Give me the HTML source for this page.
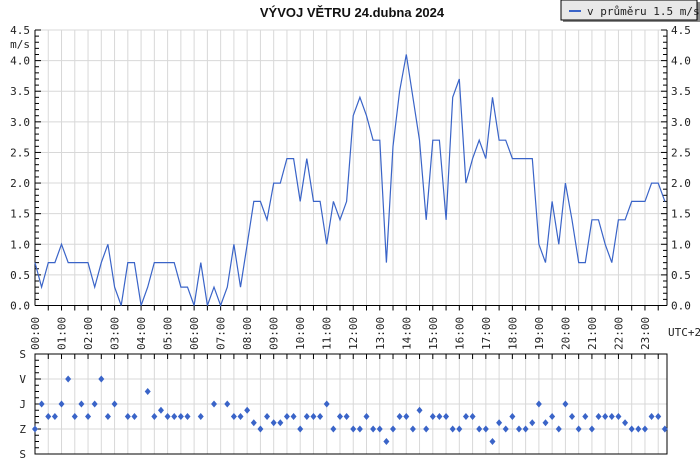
<!DOCTYPE html>
<html><head><meta charset="utf-8"><style>
body{margin:0;background:#fff;width:700px;height:460px;overflow:hidden}
svg{display:block}
text{font-family:"DejaVu Sans Mono","Liberation Mono",monospace;font-size:11px;fill:#222}
</style></head><body>
<svg id="c" width="700" height="460" xmlns="http://www.w3.org/2000/svg">
<text x="352" y="17" text-anchor="middle" style="font-family:'Liberation Sans',sans-serif;font-weight:bold;font-size:13px;fill:#111">VÝVOJ VĚTRU  24.dubna 2024</text>
<g>
<rect x="563" y="2" width="137" height="20" fill="#888"/>
<rect x="561" y="0" width="136" height="20" fill="#e8e8e8" stroke="#000" stroke-width="1"/>
<line x1="569" y1="11" x2="581" y2="11" stroke="#3a64c8" stroke-width="2"/>
<text x="587" y="15">v průměru 1.5 m/s</text>
</g>
<g id="main"></g>
<g id="dir"></g>
</svg>
<script>
const speeds=[0.7,0.3,0.7,0.7,1.0,0.7,0.7,0.7,0.7,0.3,0.7,1.0,0.3,0,0.7,0.7,0,0.3,0.7,0.7,0.7,0.7,0.3,0.3,0,0.7,0,0.3,0,0.3,1.0,0.3,1.0,1.7,1.7,1.4,2.0,2.0,2.4,2.4,1.7,2.4,1.7,1.7,1.0,1.7,1.4,1.7,3.1,3.4,3.1,2.7,2.7,0.7,2.6,3.5,4.1,3.4,2.7,1.4,2.7,2.7,1.4,3.4,3.7,2.0,2.4,2.7,2.4,3.4,2.7,2.7,2.4,2.4,2.4,2.4,1.0,0.7,1.7,1.0,2.0,1.4,0.7,0.7,1.4,1.4,1.0,0.7,1.4,1.4,1.7,1.7,1.7,2.0,2.0,1.7];
// direction in 16-point compass index (0=S north,4=V,8=J,12=Z,16=S); null = calm
const dirs=[12,8,10,10,8,4,10,8,10,8,4,10,8,null,10,10,null,6,10,9,10,10,10,10,null,10,null,8,null,8,10,10,9,11,12,10,11,11,10,10,12,10,10,10,8,12,10,10,12,12,10,12,12,14,12,10,10,12,9,12,10,10,10,12,12,10,10,12,12,14,11,12,10,12,12,11,8,11,10,12,8,10,12,10,12,10,10,10,10,11,12,12,12,10,10,12];
const yTicks=["0.0","0.5","1.0","1.5","2.0","2.5","3.0","3.5","4.0","4.5"];
const hourLabels=["00:00","01:00","02:00","03:00","04:00","05:00","06:00","07:00","08:00","09:00","10:00","11:00","12:00","13:00","14:00","15:00","16:00","17:00","18:00","19:00","20:00","21:00","22:00","23:00"];
const dirLabels=["S","V","J","Z","S"];

const NS="http://www.w3.org/2000/svg";
const X0=35,X1=667,STEP=6.63,Y0=305.5,YT=30,YMAX=4.5;
const PY0=354,PY1=454;
function xs(i){return X0+i*STEP;}
function ys(v){return Y0-(v/YMAX)*(Y0-YT);}
function yd(d){return PY0+(d/16)*(PY1-PY0);}
function el(tag,attrs,parent){const e=document.createElementNS(NS,tag);for(const k in attrs)e.setAttribute(k,attrs[k]);parent.appendChild(e);return e;}
const main=document.getElementById('main'),dir=document.getElementById('dir');
// main grid
for(let h=1;h<48;h++){const x=X0+h*STEP*2;if(x>X1-1)break;
 const g=el('line',{x1:x,y1:YT,x2:x,y2:Y0,stroke:'#d8d8d8'},main);
 
 
 el('line',{x1:x,y1:Y0,x2:x,y2:Y0+5,stroke:'#000'},main);
 const g2=el('line',{x1:x,y1:PY0,x2:x,y2:PY1,stroke:'#d8d8d8'},dir);
 el('line',{x1:x,y1:PY0,x2:x,y2:PY0+5,stroke:'#000'},dir);
}
yTicks.forEach((t,k)=>{const v=parseFloat(t),y=ys(v);
 if(k>0&&k<yTicks.length){const g=el('line',{x1:X0,y1:y,x2:X1,y2:y,stroke:'#d8d8d8'},main);
  
  }
 const a=el('text',{x:30,y:y+4,'text-anchor':'end'},main);a.textContent=t;
 
 
 const b=el('text',{x:671,y:y+4},main);b.textContent=t;
 
 
});
for(let m=0;m<=45;m++){const y=ys(m/10);const L=(m%5==0)?6:4;
 el('line',{x1:X0,y1:y,x2:X0+L,y2:y,stroke:'#000'},main);
 el('line',{x1:X1,y1:y,x2:X1-L,y2:y,stroke:'#000'},main);}
el('line',{x1:X0,y1:YT,x2:X0,y2:Y0,stroke:'#000'},main);
el('line',{x1:X1,y1:YT,x2:X1,y2:Y0,stroke:'#000'},main);
el('line',{x1:X0,y1:Y0,x2:X1,y2:Y0,stroke:'#000'},main);
const unit=el('text',{x:30,y:48,'text-anchor':'end','font-size':'10'},main);unit.textContent="m/s";


hourLabels.forEach((t,h)=>{const x=X0+h*STEP*4+4;
 const tx=el('text',{x:0,y:0,transform:`translate(${x},350) rotate(-90)`},main);tx.textContent=t;
 
 });
const utc=el('text',{x:668,y:336},main);utc.textContent="UTC+2";


// series line
const pts=speeds.map((v,i)=>xs(i).toFixed(1)+','+ys(v).toFixed(1)).join(' ');
const ln=el('polyline',{points:pts,fill:'none',stroke:'#3a64c8','stroke-width':'1.2'},main);


// direction panel
dirLabels.forEach((t,k)=>{const y=yd(k*4);
 if(k>0&&k<4){const g=el('line',{x1:X0,y1:y,x2:X1,y2:y,stroke:'#d8d8d8'},dir);}
 const tx=el('text',{x:26,y:y+4,'text-anchor':'end'},dir);tx.textContent=t;
 
 });
for(let m=0;m<=16;m++){const y=yd(m);el('line',{x1:X0,y1:y,x2:X0+(m%4==0?6:4),y2:y,stroke:'#000'},dir);}
el('rect',{x:X0,y:PY0,width:X1-X0,height:PY1-PY0,fill:'none',stroke:'#000'},dir);
dirs.forEach((d,i)=>{if(d===null)return;const x=xs(i),y=yd(d);
 const p=el('polygon',{points:`${x},${y-3.5} ${x+3},${y} ${x},${y+3.5} ${x-3},${y}`,fill:'#3a64c8'},dir);
 
 });
</script>
</body></html>
